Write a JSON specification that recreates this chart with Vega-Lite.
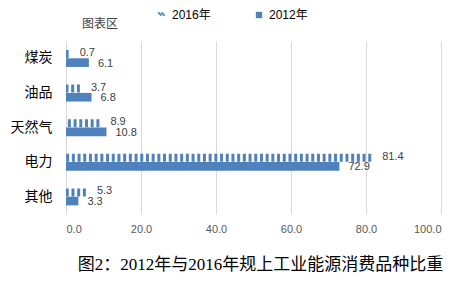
{
  "$schema": "https://vega.github.io/schema/vega-lite/v6.json",
  "width": 375,
  "height": 173,
  "autosize": "none",
  "padding": {"left": 66, "top": 41, "right": 32, "bottom": 76},
  "background": "white",
  "config": {"view": {"stroke": null}, "font": "Liberation Sans"},
  "title": {"text": "图表区", "anchor": "start", "dx": 72, "dy": 34, "offset": 12, "fontSize": 12, "fontWeight": "normal", "color": "#404040", "font": "Noto Sans CJK SC"},
  "data": {"values": [
    {"cat": "煤炭", "year": "2016年", "value": 0.7},
    {"cat": "煤炭", "year": "2012年", "value": 6.1},
    {"cat": "油品", "year": "2016年", "value": 3.7},
    {"cat": "油品", "year": "2012年", "value": 6.8},
    {"cat": "天然气", "year": "2016年", "value": 8.9},
    {"cat": "天然气", "year": "2012年", "value": 10.8},
    {"cat": "电力", "year": "2016年", "value": 81.4},
    {"cat": "电力", "year": "2012年", "value": 72.9},
    {"cat": "其他", "year": "2016年", "value": 5.3},
    {"cat": "其他", "year": "2012年", "value": 3.3}
  ]},
  "encoding": {
    "y": {"field": "cat", "type": "nominal", "sort": ["煤炭", "油品", "天然气", "电力", "其他"],
      "scale": {"paddingInner": 0.5, "paddingOuter": 0.25},
      "axis": {"title": null, "domain": false, "ticks": false, "labelFontSize": 14, "labelFont": "Noto Sans CJK SC", "labelColor": "#000000", "labelPadding": 14}},
    "yOffset": {"field": "year", "type": "nominal", "sort": ["2016年", "2012年"], "scale": {"paddingInner": 0, "paddingOuter": 0}}
  },
  "layer": [
    {
      "transform": [{"filter": "datum.year === '2012年'"}],
      "mark": {"type": "bar"},
      "encoding": {
        "x": {"field": "value", "type": "quantitative", "scale": {"domain": [0, 100]},
          "axis": {"values": [0, 20, 40, 60, 80, 100], "format": ".1f", "grid": true, "gridColor": "#d9d9d9", "domain": false, "ticks": false,
            "labelFontSize": 11, "labelColor": "#595959", "labelPadding": 9,
            "title": "图2：2012年与2016年规上工业能源消费品种比重",
            "titleFont": "Liberation Serif, Noto Sans CJK SC", "titleFontSize": 17, "titleFontWeight": "normal", "titleColor": "#000000",
            "titleX": 194, "titleY": 55, "titleBaseline": "alphabetic"}},
        "color": {"field": "year", "type": "nominal",
          "scale": {"domain": ["2016年", "2012年"], "range": ["#4f81bd", "#4f81bd"]},
          "legend": {"orient": "none", "legendX": 90, "legendY": -32, "direction": "horizontal", "title": null,
            "labelFontSize": 12, "labelColor": "#000000", "labelFont": "Liberation Sans, Noto Sans CJK SC",
            "symbolSize": 40, "columnPadding": 42,
            "encode": {"symbols": {"update": {
              "shape": {"signal": "datum.value === '2016年' ? 'M-1.2,-0.8L-0.2,0.2M-0.2,-0.8L0.8,0.2' : 'square'"},
              "fill": {"signal": "datum.value === '2016年' ? 'transparent' : '#4f81bd'"},
              "stroke": {"value": "#4f81bd"},
              "strokeWidth": {"signal": "datum.value === '2016年' ? 1.8 : 0"}
            }}}}}
      }
    },
    {
      "transform": [{"filter": "datum.year === '2016年'"}],
      "mark": {"type": "rule", "strokeWidth": 8, "strokeDash": [3, 2.7]},
      "encoding": {
        "x": {"field": "value", "type": "quantitative"},
        "x2": {"datum": 0},
        "color": {"field": "year", "type": "nominal"}
      }
    },
    {
      "transform": [{"filter": "datum.year === '2016年'"}],
      "mark": {"type": "text", "align": "left", "dx": 11, "dy": -1, "fontSize": 11, "color": "#404040"},
      "encoding": {
        "x": {"field": "value", "type": "quantitative"},
        "text": {"field": "value", "type": "quantitative", "format": ".1f"}
      }
    },
    {
      "transform": [{"filter": "datum.year === '2012年'"}],
      "mark": {"type": "text", "align": "left", "dx": 9, "dy": 1, "fontSize": 11, "color": "#404040"},
      "encoding": {
        "x": {"field": "value", "type": "quantitative"},
        "text": {"field": "value", "type": "quantitative", "format": ".1f"}
      }
    }
  ]
}
